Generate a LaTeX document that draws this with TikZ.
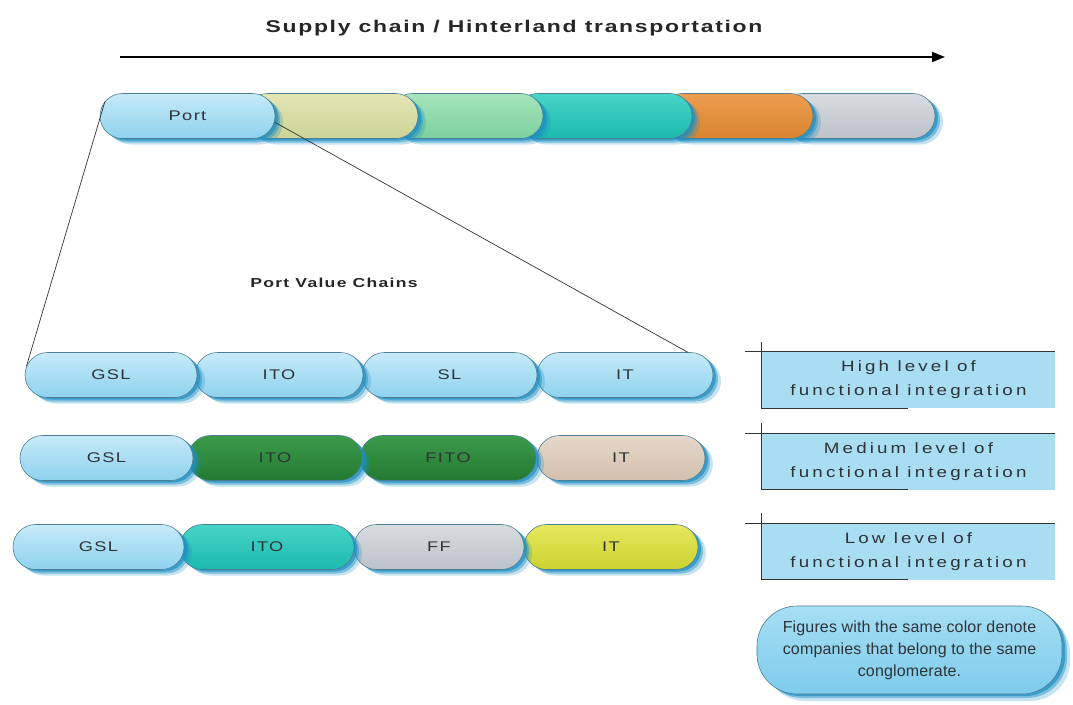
\documentclass[tikz,border=0pt]{standalone}
\usepackage{fontspec}
\setmainfont{Liberation Sans}
\newfontfamily\pillfont[FakeStretch=1.3,LetterSpace=10]{Liberation Sans}
\newfontfamily\headfont[FakeStretch=1.35,LetterSpace=10]{Liberation Sans}
\newfontfamily\labfont[FakeStretch=1.25,LetterSpace=21]{Liberation Sans}
\newfontfamily\notefont[LetterSpace=1]{Liberation Sans}
\usetikzlibrary{shapes.misc,shadows,arrows.meta}

% palette
\definecolor{glow}{HTML}{1E8FC4}
\definecolor{pilledge}{HTML}{4F7E92}
\definecolor{inktext}{HTML}{2E3338}
\definecolor{lbA}{HTML}{C6EAF8}
\definecolor{lbB}{HTML}{8ED2EE}
\definecolor{ywA}{HTML}{E4E6B4}
\definecolor{ywB}{HTML}{CCD496}
\definecolor{gnA}{HTML}{A6E4BC}
\definecolor{gnB}{HTML}{7CD09E}
\definecolor{tlA}{HTML}{46D4C6}
\definecolor{tlB}{HTML}{1CBAAE}
\definecolor{orA}{HTML}{EE9E50}
\definecolor{orB}{HTML}{D8842E}
\definecolor{gyA}{HTML}{D8DCE0}
\definecolor{gyB}{HTML}{BCC2C8}
\definecolor{dgA}{HTML}{3C9A4A}
\definecolor{dgB}{HTML}{237A32}
\definecolor{bgA}{HTML}{E6D8CA}
\definecolor{bgB}{HTML}{D2C0AE}
\definecolor{yeA}{HTML}{E4E85C}
\definecolor{yeB}{HTML}{CCD230}
\definecolor{labfill}{HTML}{A8DDF2}
\definecolor{calA}{HTML}{A6DEF4}
\definecolor{calB}{HTML}{7ECCEC}

\tikzset{
  pill/.style={rounded rectangle, minimum height=45pt, inner sep=0pt,
    draw=pilledge, line width=0.6pt, text=inktext,
    font={\pillfont\fontsize{14}{16}\selectfont},
    drop shadow={shadow xshift=8pt, shadow yshift=-6pt, fill=glow, opacity=0.25},
    drop shadow={shadow xshift=5pt, shadow yshift=-4pt, fill=glow, opacity=0.45},
    drop shadow={shadow xshift=3pt, shadow yshift=-2pt, fill=glow, opacity=0.7}},
  lightblue/.style={top color=lbA, bottom color=lbB},
  paleyellow/.style={top color=ywA, bottom color=ywB},
  mint/.style={top color=gnA, bottom color=gnB},
  teal/.style={top color=tlA, bottom color=tlB},
  amber/.style={top color=orA, bottom color=orB},
  silver/.style={top color=gyA, bottom color=gyB},
  forest/.style={top color=dgA, bottom color=dgB},
  sand/.style={top color=bgA, bottom color=bgB},
  lime/.style={top color=yeA, bottom color=yeB},
  levelbox/.style={rectangle, fill=labfill, minimum width=293pt, minimum height=56pt,
    inner sep=0pt, align=center, text=inktext,
    font={\labfont\fontsize{15}{24}\selectfont}},
  rule/.style={line width=0.8pt, draw=black!80},
  heading/.style={text=black!85},
}

\begin{document}
\begin{tikzpicture}[x=1pt,y=-1pt]
\useasboundingbox (0,0) rectangle (1073,704);

% flow arrow and its caption
\node[heading, font={\headfont\bfseries\fontsize{17}{19}\selectfont}] (flowtitle) at (514,28)
  {Supply chain / Hinterland transportation};
\coordinate (flowA) at (120,57);
\coordinate (flowB) at (945,57);
\draw[line width=1.6pt, -{Triangle[length=13pt,width=10pt]}] (flowA) -- (flowB);

% supply chain stages, drawn back to front
\node[pill, silver, minimum width=155pt] (s6) at (857.5,116) {};
\node[pill, amber, minimum width=153pt] (s5) at (736.5,116) {};
\node[pill, teal, minimum width=177pt] (s4) at (603.5,116) {};
\node[pill, mint, minimum width=153pt] (s3) at (466.5,116) {};
\node[pill, paleyellow, minimum width=173pt] (s2) at (331.5,116) {};
\node[pill, lightblue, minimum width=175pt] (port) at (187.5,116) {Port};

\node[heading, font={\headfont\bfseries\fontsize{13}{15}\selectfont}] (pvc) at (334,283)
  {Port Value Chains};

% high integration chain
\node[pill, lightblue, minimum width=176pt] (r1d) at (625,375) {IT};
\node[pill, lightblue, minimum width=175pt] (r1c) at (449.5,375) {SL};
\node[pill, lightblue, minimum width=168pt] (r1b) at (279,375) {ITO};
\node[pill, lightblue, minimum width=172pt] (r1a) at (111,375) {GSL};

% medium integration chain
\node[pill, sand, minimum width=168pt] (r2d) at (621,458) {IT};
\node[pill, forest, minimum width=176pt] (r2c) at (448,458) {FITO};
\node[pill, forest, minimum width=174pt] (r2b) at (275,458) {ITO};
\node[pill, lightblue, minimum width=173pt] (r2a) at (106.5,458) {GSL};

% low integration chain
\node[pill, lime, minimum width=174pt] (r3d) at (611,547) {IT};
\node[pill, silver, minimum width=170pt] (r3c) at (439,547) {FF};
\node[pill, teal, minimum width=174pt] (r3b) at (267,547) {ITO};
\node[pill, lightblue, minimum width=171pt] (r3a) at (98.5,547) {GSL};

% zoom lines from the port stage to the value chains
\draw[line width=0.7pt, black!80] (port.170) -- (r1a.174);
\draw[line width=0.7pt, black!80] (port.-4) -- (r1d.20);

% integration level labels
\foreach \lv/\yy/\txt in {lv1/380/{High level of\\functional integration},
                          lv2/461.5/{Medium level of\\functional integration},
                          lv3/551.5/{Low level of\\functional integration}}{
  \node[levelbox] (\lv) at (908.5,\yy) {\txt};
  \draw[rule] ([xshift=-17pt]\lv.north west) -- (\lv.north east);
  \draw[rule] ([yshift=10pt]\lv.north west) -- (\lv.south west) -- ([xshift=146pt]\lv.south west);
}

% colour legend callout
\node[rectangle, rounded corners=40pt, minimum width=305pt, minimum height=88pt,
      top color=calA, bottom color=calB, draw=pilledge, line width=0.6pt,
      drop shadow={shadow xshift=8pt, shadow yshift=-7pt, fill=glow, opacity=0.25},
      drop shadow={shadow xshift=5pt, shadow yshift=-4pt, fill=glow, opacity=0.45},
      drop shadow={shadow xshift=3pt, shadow yshift=-2pt, fill=glow, opacity=0.7},
      align=center, text=inktext, font={\notefont\fontsize{16}{22}\selectfont}]
  (legend) at (909.5,650)
  {Figures with the same color denote\\companies that belong to the same\\conglomerate.};
\end{tikzpicture}
\end{document}
